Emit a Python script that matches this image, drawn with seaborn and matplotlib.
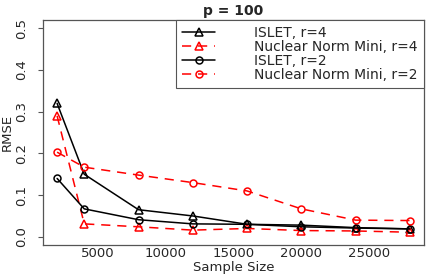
import matplotlib
matplotlib.use("Agg")
import matplotlib.pyplot as plt
import seaborn as sns
import pandas as pd

# values
sample_size = [2000, 4000, 8000, 12000, 16000, 20000, 24000, 28000]
islet_r4 = [0.320, 0.150, 0.065, 0.050, 0.030, 0.028, 0.022, 0.019]
nuclear_r4 = [0.290, 0.031, 0.024, 0.016, 0.020, 0.015, 0.014, 0.011]
islet_r2 = [0.140, 0.067, 0.041, 0.031, 0.030, 0.024, 0.021, 0.019]
nuclear_r2 = [0.203, 0.167, 0.148, 0.130, 0.110, 0.067, 0.040, 0.039]

labels = ["ISLET, r=4", "Nuclear Norm Mini, r=4", "ISLET, r=2", "Nuclear Norm Mini, r=2"]
series = [islet_r4, nuclear_r4, islet_r2, nuclear_r2]
colors = ["black", "red", "black", "red"]
markers = ["^", "^", "o", "o"]
dashed = (0, (6, 4.5))
styles = ["-", dashed, "-", dashed]

sns.set_style("ticks")
plt.rcParams["font.family"] = ["DejaVu Sans"]
plt.rcParams["font.size"] = 9

fig = plt.figure(figsize=(4.36, 2.77), dpi=100)
ax = fig.add_axes([0.0986, 0.115, 0.8739, 0.8128])

for lab, vals, col, mk, ls in zip(labels, series, colors, markers, styles):
    df = pd.DataFrame({"n": sample_size, "rmse": vals})
    sns.lineplot(data=df, x="n", y="rmse", ax=ax, color=col, marker=mk,
                 linestyle=ls, lw=1.1, markersize=6 if mk == "^" else 5,
                 mfc="none", mec=col, mew=1.1, label=lab)

ax.set_xlim(960, 29040)
ax.set_ylim(-0.02, 0.52)
ax.set_xticks([5000, 10000, 15000, 20000, 25000])
ax.set_yticks([0.0, 0.1, 0.2, 0.3, 0.4, 0.5])
ax.set_yticklabels(["0.0", "0.1", "0.2", "0.3", "0.4", "0.5"], rotation=90, va="center")
ax.tick_params(axis="x", length=0, pad=1.5, labelsize=9.5)
ax.tick_params(axis="y", length=3.6, width=0.8, color="#555555", pad=7, labelsize=9.5)
for s in ax.spines.values():
    s.set_color("#555555")
    s.set_linewidth(0.9)

ax.set_xlabel("Sample Size", fontsize=9.5)
ax.xaxis.set_label_coords(0.5, -0.072)
ax.set_ylabel("RMSE", fontsize=9.5)
ax.yaxis.set_label_coords(-0.078, 0.5)
ax.set_title("p = 100", fontsize=10, fontweight="bold", pad=3.5)

leg = ax.legend(loc="upper right", bbox_to_anchor=(1, 1), borderaxespad=0,
                fancybox=False, framealpha=1, edgecolor="#555555",
                fontsize=10, handlelength=2.4, labelspacing=0.0,
                borderpad=0.45, handletextpad=2.8)
leg.get_frame().set_linewidth(0.8)

fig.savefig("out.png", dpi=100)
